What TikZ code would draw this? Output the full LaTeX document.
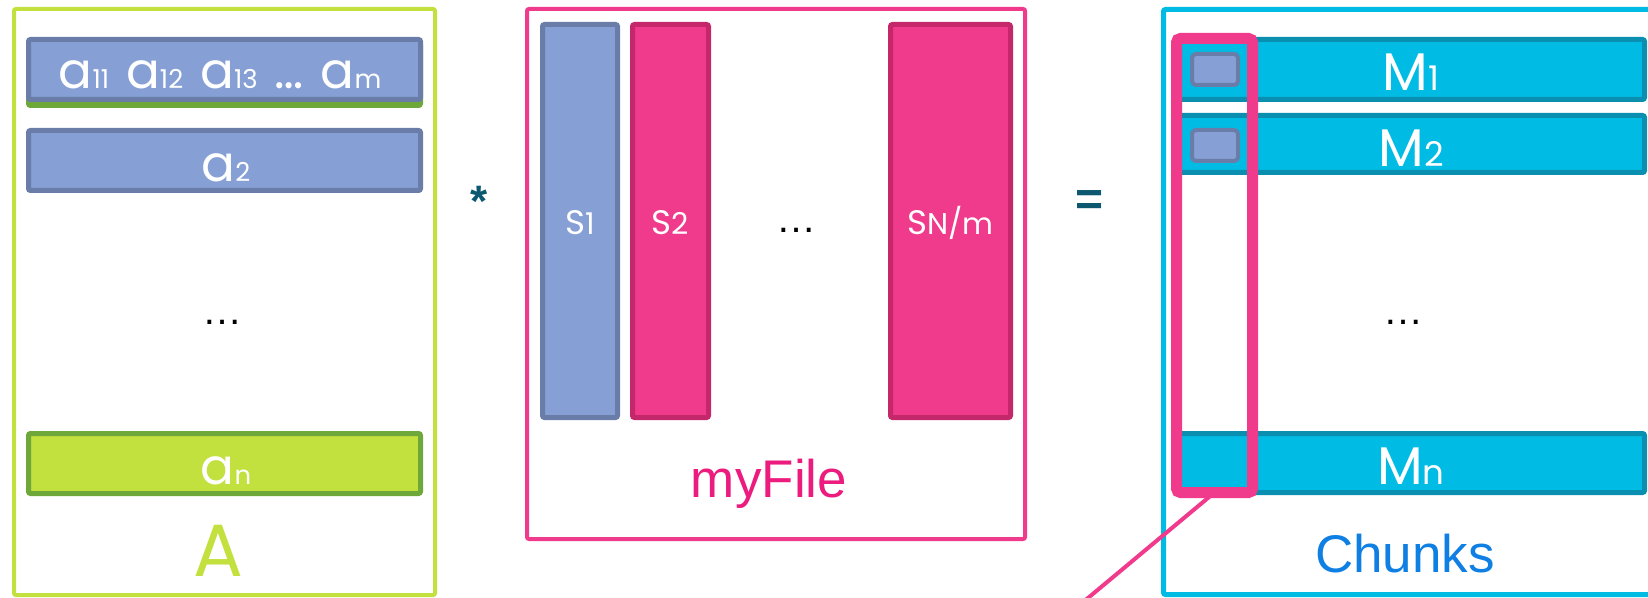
\documentclass[tikz,border=0pt]{standalone}
\usepackage{fontspec}
\setmainfont{Liberation Sans}
\newfontfamily\geo{Poppins}
% smaller index text set on the same baseline
\newcommand\idx[2]{{\fontsize{#1}{#1}\selectfont #2}}

\definecolor{limeA}{HTML}{C2E03E}
\definecolor{greenA}{HTML}{6FA83A}
\definecolor{blueF}{HTML}{86A0D5}
\definecolor{blueB}{HTML}{6A7DA8}
\definecolor{pinkF}{HTML}{F03A8C}
\definecolor{pinkB}{HTML}{C4286B}
\definecolor{pinkT}{HTML}{EC1C7E}
\definecolor{cyanF}{HTML}{00BBE3}
\definecolor{cyanB}{HTML}{0A8FB0}
\definecolor{chunkT}{HTML}{0F7FE3}
\definecolor{tealT}{HTML}{0B5870}

\begin{document}
\begin{tikzpicture}[x=0.5pt,y=-0.5pt,
  frame/.style={draw, rectangle, inner sep=0, outer sep=0, rounded corners=1pt, line width=2pt},
  bar/.style={draw, rectangle, inner sep=0, outer sep=0, rounded corners=1pt, line width=2.5pt},
  bluebar/.style={bar, fill=blueF, draw=blueB},
  pinkbar/.style={bar, fill=pinkF, draw=pinkB},
  cyanbar/.style={bar, fill=cyanF, draw=cyanB},
  lbl/.style={inner sep=0, anchor=base, text=white},
  dots/.style={inner sep=0, anchor=base, font=\fontsize{20}{20}\selectfont},
]
\useasboundingbox (0,0) rectangle (1648,598);
\clip (0,0) rectangle (1648,598);

% ---------- matrix A ----------
\node[frame, draw=limeA, line width=2pt, minimum width=210.5pt, minimum height=293pt] (boxA) at (224.5,302) {};
\node[bar, fill=greenA, draw=greenA, minimum width=196pt, minimum height=31pt] (a1u) at (224.5,74.5) {};
\node[bluebar, minimum width=196pt, minimum height=30pt] (a1) at (224.5,69.5) {};
\node[bluebar, minimum width=196pt, minimum height=30pt] (a2) at (224.5,160.5) {};
\node[bar, fill=limeA, draw=greenA, minimum width=196pt, minimum height=30pt] (an) at (224.5,463.5) {};

\node[lbl] (ta1) at (220,89) {\geo\fontsize{25}{25}\selectfont
  a\idx{13}{11}\hspace{8.5pt}a\idx{13}{12}\hspace{8.5pt}a\idx{13}{13}\hspace{8.5pt}…\hspace{8.5pt}a\idx{13}{m}};
\node[lbl] (ta2) at (226,182) {\geo\fontsize{25}{25}\selectfont a\idx{13}{2}};
\node[lbl] (tan) at (226,484) {\geo\fontsize{25}{25}\selectfont a\idx{13}{n}};
\node[dots] (dA) at (222,325) {…};
\node[inner sep=0, anchor=base, text depth=0pt, text=limeA] (tA) at (218,576) {\geo\fontsize{37}{37}\selectfont A};

% ---------- operator ----------
\node[inner sep=0, anchor=base, text=tealT] (times) at (479,217) {\bfseries\fontsize{22}{22}\selectfont *};

% ---------- myFile ----------
\node[frame, draw=pinkF, minimum width=249pt, minimum height=265pt] (boxF) at (776,274) {};
\node[bluebar, minimum width=37.5pt, minimum height=196.5pt] (s1) at (580,221) {};
\node[pinkbar, minimum width=38pt, minimum height=196.5pt] (s2) at (670.5,221) {};
\node[pinkbar, minimum width=60pt, minimum height=196.5pt] (sn) at (950.5,221) {};
\node[lbl] (ts1) at (580,235) {\geo\fontsize{17}{17}\selectfont S\idx{15}{1}};
\node[lbl] (ts2) at (670.5,235) {\geo\fontsize{17}{17}\selectfont S\idx{15}{2}};
\node[lbl] (tsn) at (950.5,235) {\geo\fontsize{17}{17}\selectfont S\idx{15}{N/m}};
\node[dots] (dF) at (796,233) {…};
\node[inner sep=0, anchor=base, text=pinkT] (tF) at (769,497) {\fontsize{26.5}{27}\selectfont myFile};

% ---------- operator ----------
\node[inner sep=0, anchor=base, text=tealT] (equals) at (1089,216) {\bfseries\fontsize{24}{24}\selectfont =};

% ---------- Chunks ----------
\node[frame, draw=cyanF, line width=2.5pt, minimum width=267pt, minimum height=292.5pt] (boxC) at (1430.5,302) {};
\node[cyanbar, minimum width=233pt, minimum height=30pt] (m1) at (1411.5,69.5) {};
\node[cyanbar, minimum width=233pt, minimum height=28.5pt] (m2) at (1411.5,144) {};
\node[cyanbar, minimum width=233pt, minimum height=29.5pt] (mn) at (1411.5,463) {};
\node[bar, line width=2pt, rounded corners=2pt, fill=blueF, draw=blueB, minimum width=23pt, minimum height=15.5pt] (c1) at (1215,69.5) {};
\node[bar, line width=2pt, rounded corners=2pt, fill=blueF, draw=blueB, minimum width=23pt, minimum height=15.5pt] (c2) at (1215,145.5) {};
\node[lbl] (tm1) at (1411,91) {\geo\fontsize{26.5}{27}\selectfont M\idx{17}{1}};
\node[lbl] (tm2) at (1411,167) {\geo\fontsize{26.5}{27}\selectfont M\idx{17}{2}};
\node[lbl] (tmn) at (1411,484) {\geo\fontsize{26.5}{27}\selectfont M\idx{17}{n}};
\node[dots] (dC) at (1403,325) {…};
\node[inner sep=0, anchor=base, text=chunkT] (tC) at (1405,572) {\fontsize{26.5}{27}\selectfont Chunks};

% highlighted first column and its pointer line
\node[draw=pinkF, rectangle, inner sep=0, outer sep=0, rounded corners=2pt, line width=5.5pt,
      minimum width=38pt, minimum height=227pt] (hl) at (1214.5,265.5) {};
\coordinate (tail) at (1076,608);
\draw[pinkF, line width=2pt] (hl.south) -- (tail);
\end{tikzpicture}
\end{document}
